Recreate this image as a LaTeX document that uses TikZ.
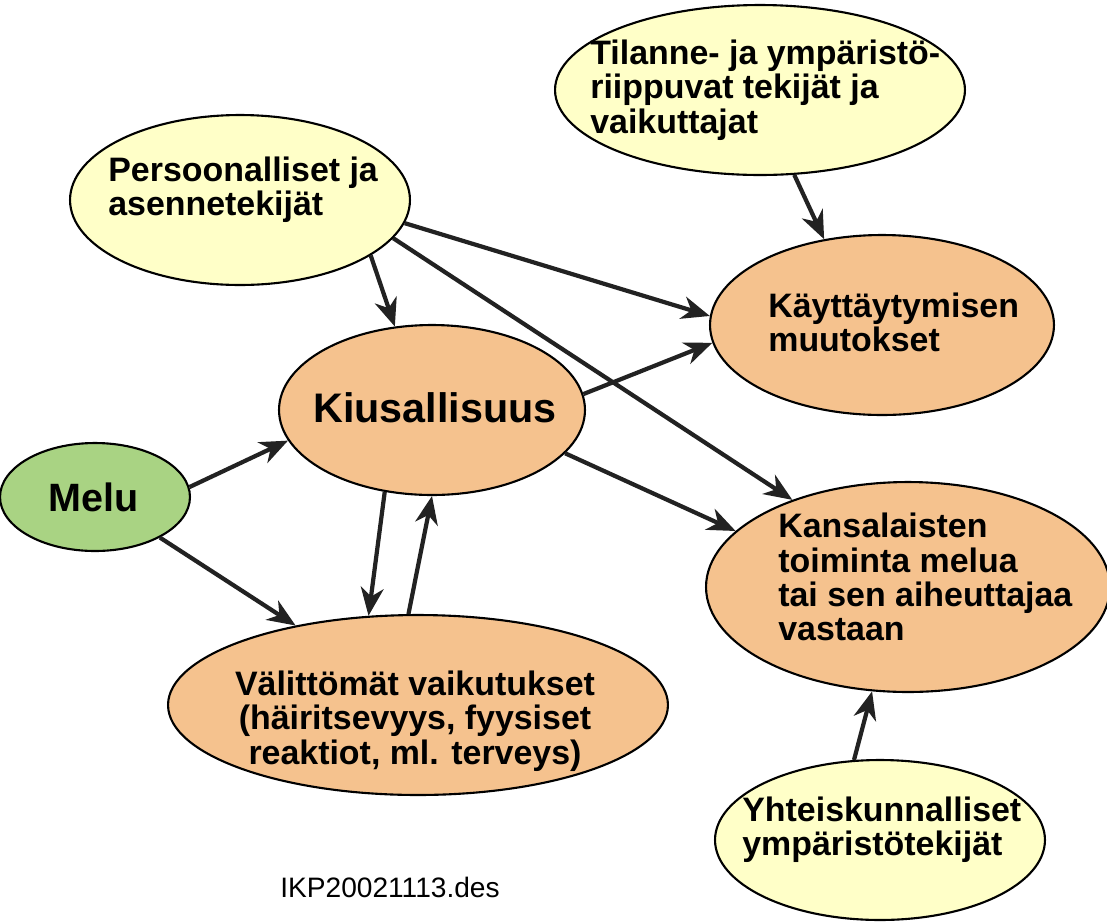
\documentclass[tikz,border=0pt]{standalone}
\usepackage{fontspec}
\setmainfont{Liberation Sans}
\usetikzlibrary{shapes.geometric,arrows.meta}
\definecolor{yel}{HTML}{FFFFC8}
\definecolor{ora}{HTML}{F5C28E}
\definecolor{grn}{HTML}{A9D383}
\definecolor{arr}{HTML}{222222}
\begin{document}
\begin{tikzpicture}[x=0.02cm,y=-0.02cm,
  ell/.style={ellipse,draw=black,line width=1.2pt,inner sep=0pt},
  txt/.style={inner sep=0pt,align=left,anchor=west,font=\bfseries\fontsize{19.3}{19.5}\selectfont},
  arw/.style={draw=arr,line width=2.4pt,-{Stealth[length=16pt,width=13pt,inset=5pt]}}]
\path[use as bounding box,fill=white] (0,0) rectangle (1107,921);
\node[ell,fill=yel,minimum width=8.2cm,minimum height=3.4cm] (til) at (760,90) {};
\node[ell,fill=yel,minimum width=6.8cm,minimum height=3.4cm] (per) at (240,200) {};
\node[ell,fill=ora,minimum width=6.88cm,minimum height=3.6cm] (kay) at (882,325) {};
\node[ell,fill=ora,minimum width=6.12cm,minimum height=3.4cm] (kiu) at (432,410) {};
\node[ell,fill=grn,minimum width=3.8cm,minimum height=2.16cm] (mel) at (95,497) {};
\node[ell,fill=ora,minimum width=8.08cm,minimum height=4.2cm] (kan) at (908,587) {};
\node[ell,fill=ora,minimum width=10cm,minimum height=3.6cm] (val) at (418,705) {};
\node[ell,fill=yel,minimum width=6.6cm,minimum height=3.2cm] (yht) at (880,840) {};
\node[txt] (tilt) at (590,90) {Tilanne- ja ympäristö-\\riippuvat tekijät ja\\vaikuttajat};
\node[txt] (pert) at (108,190) {Persoonalliset ja\\asennetekijät};
\node[txt] (kayt) at (768,322) {Käyttäytymisen\\muutokset};
\node[txt,anchor=center,font=\bfseries\fontsize{23.5}{25}\selectfont] (kiut) at (435,408) {Kiusallisuus};
\node[txt,anchor=center,font=\bfseries\fontsize{22.5}{24}\selectfont] (melt) at (94,497) {Melu};
\node[txt] (kant) at (778,577) {Kansalaisten\\toiminta melua\\tai sen aiheuttajaa\\vastaan};
\node[txt,anchor=center,align=center] (valt) at (415,721) {Välittömät vaikutukset\\(häiritsevyys, fyysiset\\reaktiot, ml. terveys)};
\node[txt] (yhtt) at (742,830) {Yhteiskunnalliset\\ympäristötekijät};
\node[font=\fontsize{16}{18}\selectfont] (lab) at (390,887) {IKP20021113.des};
\draw[arw] (til.-68) -- (kay.124);
\draw[arw] (per.-23) -- (kiu.114);
\draw[arw] (per.-8) -- (kay.177);
\draw[arw] (per.-14) -- (kan.143);
\draw[arw] (kiu.6) -- (kay.186);
\draw[arw] (kiu.-18) -- (kan.162);
\draw[arw] (mel.6) -- (kiu.192);
\draw[arw] (mel.-32) -- (val.147);
\draw[arw] (kiu.-120) -- (val.119);
\draw[arw] (val.96) -- (kiu.-90);
\draw[arw] (yht.108) -- (kan.-109);
\end{tikzpicture}
\end{document}
